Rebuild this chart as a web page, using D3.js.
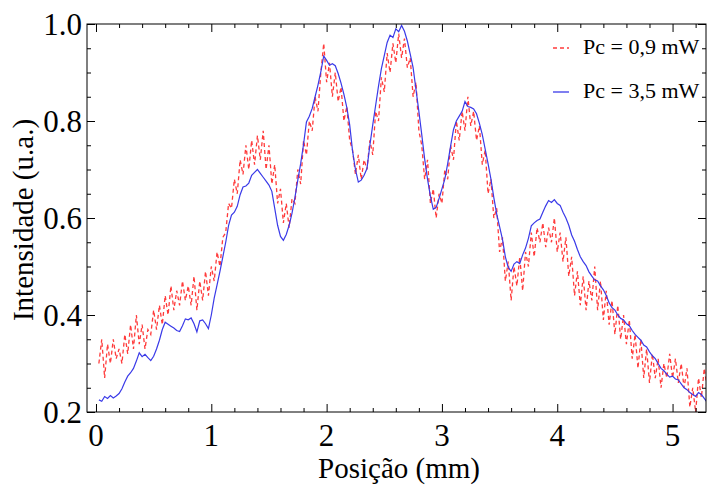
<!DOCTYPE html>
<html><head><meta charset="utf-8">
<script src="https://cdn.jsdelivr.net/npm/d3@7"></script>
<style>body{margin:0;background:#fff}svg{display:block}text{font-family:"Liberation Serif","Tinos","Nimbus Roman","Nimbus Roman No9 L","Noto Serif","FreeSerif","Times New Roman",Times,"DejaVu Serif",serif}</style>
</head><body>
<script>
// sampling grid (mm) for both traces
const posStart = 0.025, posStep = 0.025;
// Pc = 3,5 mW (solid blue)
const blue = [0.225,0.222,0.232,0.228,0.234,0.229,0.233,0.238,0.248,0.262,0.274,0.281,0.290,0.305,0.322,0.314,0.319,0.312,0.306,0.315,
0.330,0.348,0.370,0.385,0.381,0.377,0.373,0.368,0.366,0.378,0.392,0.390,0.394,0.382,0.365,0.388,0.390,0.382,0.372,0.400,
0.435,0.462,0.490,0.520,0.550,0.585,0.606,0.612,0.624,0.648,0.664,0.666,0.672,0.688,0.694,0.700,0.692,0.684,0.676,0.668,
0.655,0.620,0.585,0.562,0.554,0.566,0.585,0.610,0.642,0.678,0.712,0.752,0.798,0.810,0.826,0.850,0.874,0.902,0.934,0.925,
0.915,0.918,0.914,0.898,0.878,0.855,0.828,0.792,0.738,0.700,0.674,0.678,0.688,0.702,0.750,0.792,0.832,0.872,0.908,0.935,
0.962,0.977,0.972,0.990,0.984,0.997,0.985,0.965,0.938,0.910,0.865,0.820,0.772,0.722,0.680,0.645,0.618,0.622,0.640,0.660,
0.680,0.712,0.748,0.782,0.800,0.810,0.820,0.840,0.830,0.828,0.825,0.815,0.795,0.772,0.742,0.712,0.680,0.642,0.608,0.582,
0.556,0.520,0.498,0.490,0.505,0.510,0.506,0.524,0.538,0.558,0.584,0.590,0.595,0.598,0.612,0.625,0.636,0.632,0.638,0.630,
0.626,0.612,0.600,0.585,0.565,0.552,0.535,0.520,0.510,0.502,0.489,0.480,0.472,0.470,0.460,0.452,0.440,0.425,0.415,0.410,
0.400,0.393,0.390,0.382,0.378,0.368,0.360,0.354,0.348,0.338,0.334,0.324,0.316,0.310,0.300,0.290,0.285,0.278,0.272,0.274,
0.268,0.266,0.258,0.250,0.246,0.240,0.236,0.232,0.240,0.236,0.228,0.220];
// Pc = 0,9 mW (dashed red)
const red = [0.30,0.35,0.27,0.34,0.30,0.35,0.31,0.33,0.30,0.36,0.32,0.38,0.33,0.40,0.34,0.38,0.33,0.37,0.36,0.41,
0.37,0.42,0.38,0.44,0.40,0.46,0.41,0.45,0.42,0.47,0.43,0.46,0.42,0.48,0.41,0.47,0.43,0.49,0.44,0.50,
0.47,0.53,0.50,0.56,0.57,0.63,0.62,0.68,0.65,0.72,0.69,0.75,0.70,0.76,0.71,0.77,0.72,0.78,0.70,0.75,
0.67,0.71,0.63,0.66,0.59,0.63,0.58,0.64,0.63,0.70,0.67,0.76,0.73,0.80,0.78,0.85,0.82,0.90,0.96,0.88,
0.92,0.85,0.90,0.84,0.87,0.80,0.83,0.76,0.74,0.69,0.73,0.68,0.72,0.70,0.76,0.73,0.82,0.80,0.89,0.86,
0.94,0.90,0.96,0.92,0.98,0.93,0.97,0.91,0.93,0.85,0.88,0.78,0.75,0.68,0.72,0.63,0.66,0.60,0.65,0.63,
0.70,0.68,0.75,0.72,0.80,0.76,0.82,0.78,0.85,0.79,0.82,0.76,0.79,0.71,0.74,0.65,0.68,0.60,0.62,0.53,
0.56,0.47,0.51,0.43,0.50,0.46,0.52,0.45,0.53,0.50,0.57,0.52,0.58,0.55,0.59,0.54,0.58,0.55,0.60,0.53,
0.57,0.51,0.56,0.48,0.52,0.44,0.49,0.42,0.48,0.41,0.47,0.43,0.50,0.41,0.47,0.39,0.45,0.38,0.43,0.36,
0.42,0.35,0.40,0.34,0.39,0.31,0.36,0.29,0.35,0.27,0.33,0.26,0.32,0.27,0.31,0.25,0.30,0.27,0.32,0.27,
0.31,0.26,0.30,0.25,0.29,0.21,0.25,0.20,0.27,0.23,0.29,0.25];
const xTicks = [0,1,2,3,4,5];
const yTicks = [0.2,0.4,0.6,0.8,1.0];
const legendLabels = ["Pc = 0,9 mW","Pc = 3,5 mW"];

const W=710,H=486;
const L=87,R=706,T=24,B=412;
const svg=d3.select("body").append("svg").attr("width",W).attr("height",H);
const x=d3.scaleLinear().domain([-0.078,5.29]).range([L,R]);
const y=d3.scaleLinear().domain([0.2,1.0]).range([B,T]);

svg.append("defs").append("clipPath").attr("id","clip").append("rect")
  .attr("x",L).attr("y",T).attr("width",R-L).attr("height",B-T);

const pos = i => posStart + i*posStep;
const line=d3.line().x((d,i)=>x(pos(i))).y(d=>y(d));
const g=svg.append("g").attr("clip-path","url(#clip)");
g.append("path").datum(red).attr("d",line).attr("fill","none")
  .attr("stroke","#ff3b3b").attr("stroke-width",1.3).attr("stroke-dasharray","4,3");
g.append("path").datum(blue).attr("d",line).attr("fill","none")
  .attr("stroke","#3a3ae8").attr("stroke-width",1.2);

// frame
svg.append("rect").attr("x",L).attr("y",T).attr("width",R-L).attr("height",B-T)
  .attr("fill","none").attr("stroke","#000").attr("stroke-width",1);

// ticks via axes (inward)
const xMinor=d3.range(0,5.3,0.2).filter(v=>Math.abs(v-Math.round(v))>1e-6);
const yMinor=d3.range(0.25,1.0,0.05).filter(v=>Math.abs(v*5-Math.round(v*5))>1e-6);
function ticks(axisFn, scale, vals, len, transform){
  svg.append("g").attr("transform",transform)
    .call(axisFn(scale).tickValues(vals).tickSize(len).tickFormat(""))
    .call(s=>{s.select(".domain").remove();s.selectAll("line").attr("stroke","#000");});
}
ticks(d3.axisTop,x,xTicks,8,`translate(0,${B})`);
ticks(d3.axisTop,x,xMinor,4,`translate(0,${B})`);
ticks(d3.axisBottom,x,xTicks,8,`translate(0,${T})`);
ticks(d3.axisBottom,x,xMinor,4,`translate(0,${T})`);
ticks(d3.axisRight,y,yTicks,8,`translate(${L},0)`);
ticks(d3.axisRight,y,yMinor,4,`translate(${L},0)`);
ticks(d3.axisLeft,y,yTicks,8,`translate(${R},0)`);
ticks(d3.axisLeft,y,yMinor,4,`translate(${R},0)`);

// tick labels
svg.append("g").selectAll("text").data(xTicks).join("text")
  .attr("x",d=>x(d)).attr("y",B+34).attr("text-anchor","middle")
  .attr("font-size",31).text(d=>d);
svg.append("g").selectAll("text").data(yTicks).join("text")
  .attr("x",L-5).attr("y",d=>y(d)+11).attr("text-anchor","end")
  .attr("font-size",31).text(d=>d.toFixed(1));

// axis titles
svg.append("text").attr("x",399).attr("y",478).attr("text-anchor","middle")
  .attr("font-size",29).text("Posição (mm)");
svg.append("text").attr("transform","translate(33,220) rotate(-90)").attr("text-anchor","middle")
  .attr("font-size",29).text("Intensidade (u.a.)");

// legend
const lg=svg.append("g");
[["#ff3b3b","4,3",48,54],["#3a3ae8",null,92,98]].forEach((c,i)=>{
  const ln=lg.append("line").attr("x1",553).attr("x2",569).attr("y1",c[2]).attr("y2",c[2])
    .attr("stroke",c[0]).attr("stroke-width",1.3);
  if(c[1]) ln.attr("stroke-dasharray",c[1]);
  lg.append("text").attr("x",583).attr("y",c[3]).attr("font-size",22)
    .text(legendLabels[i]);
});
</script>
</body></html>
